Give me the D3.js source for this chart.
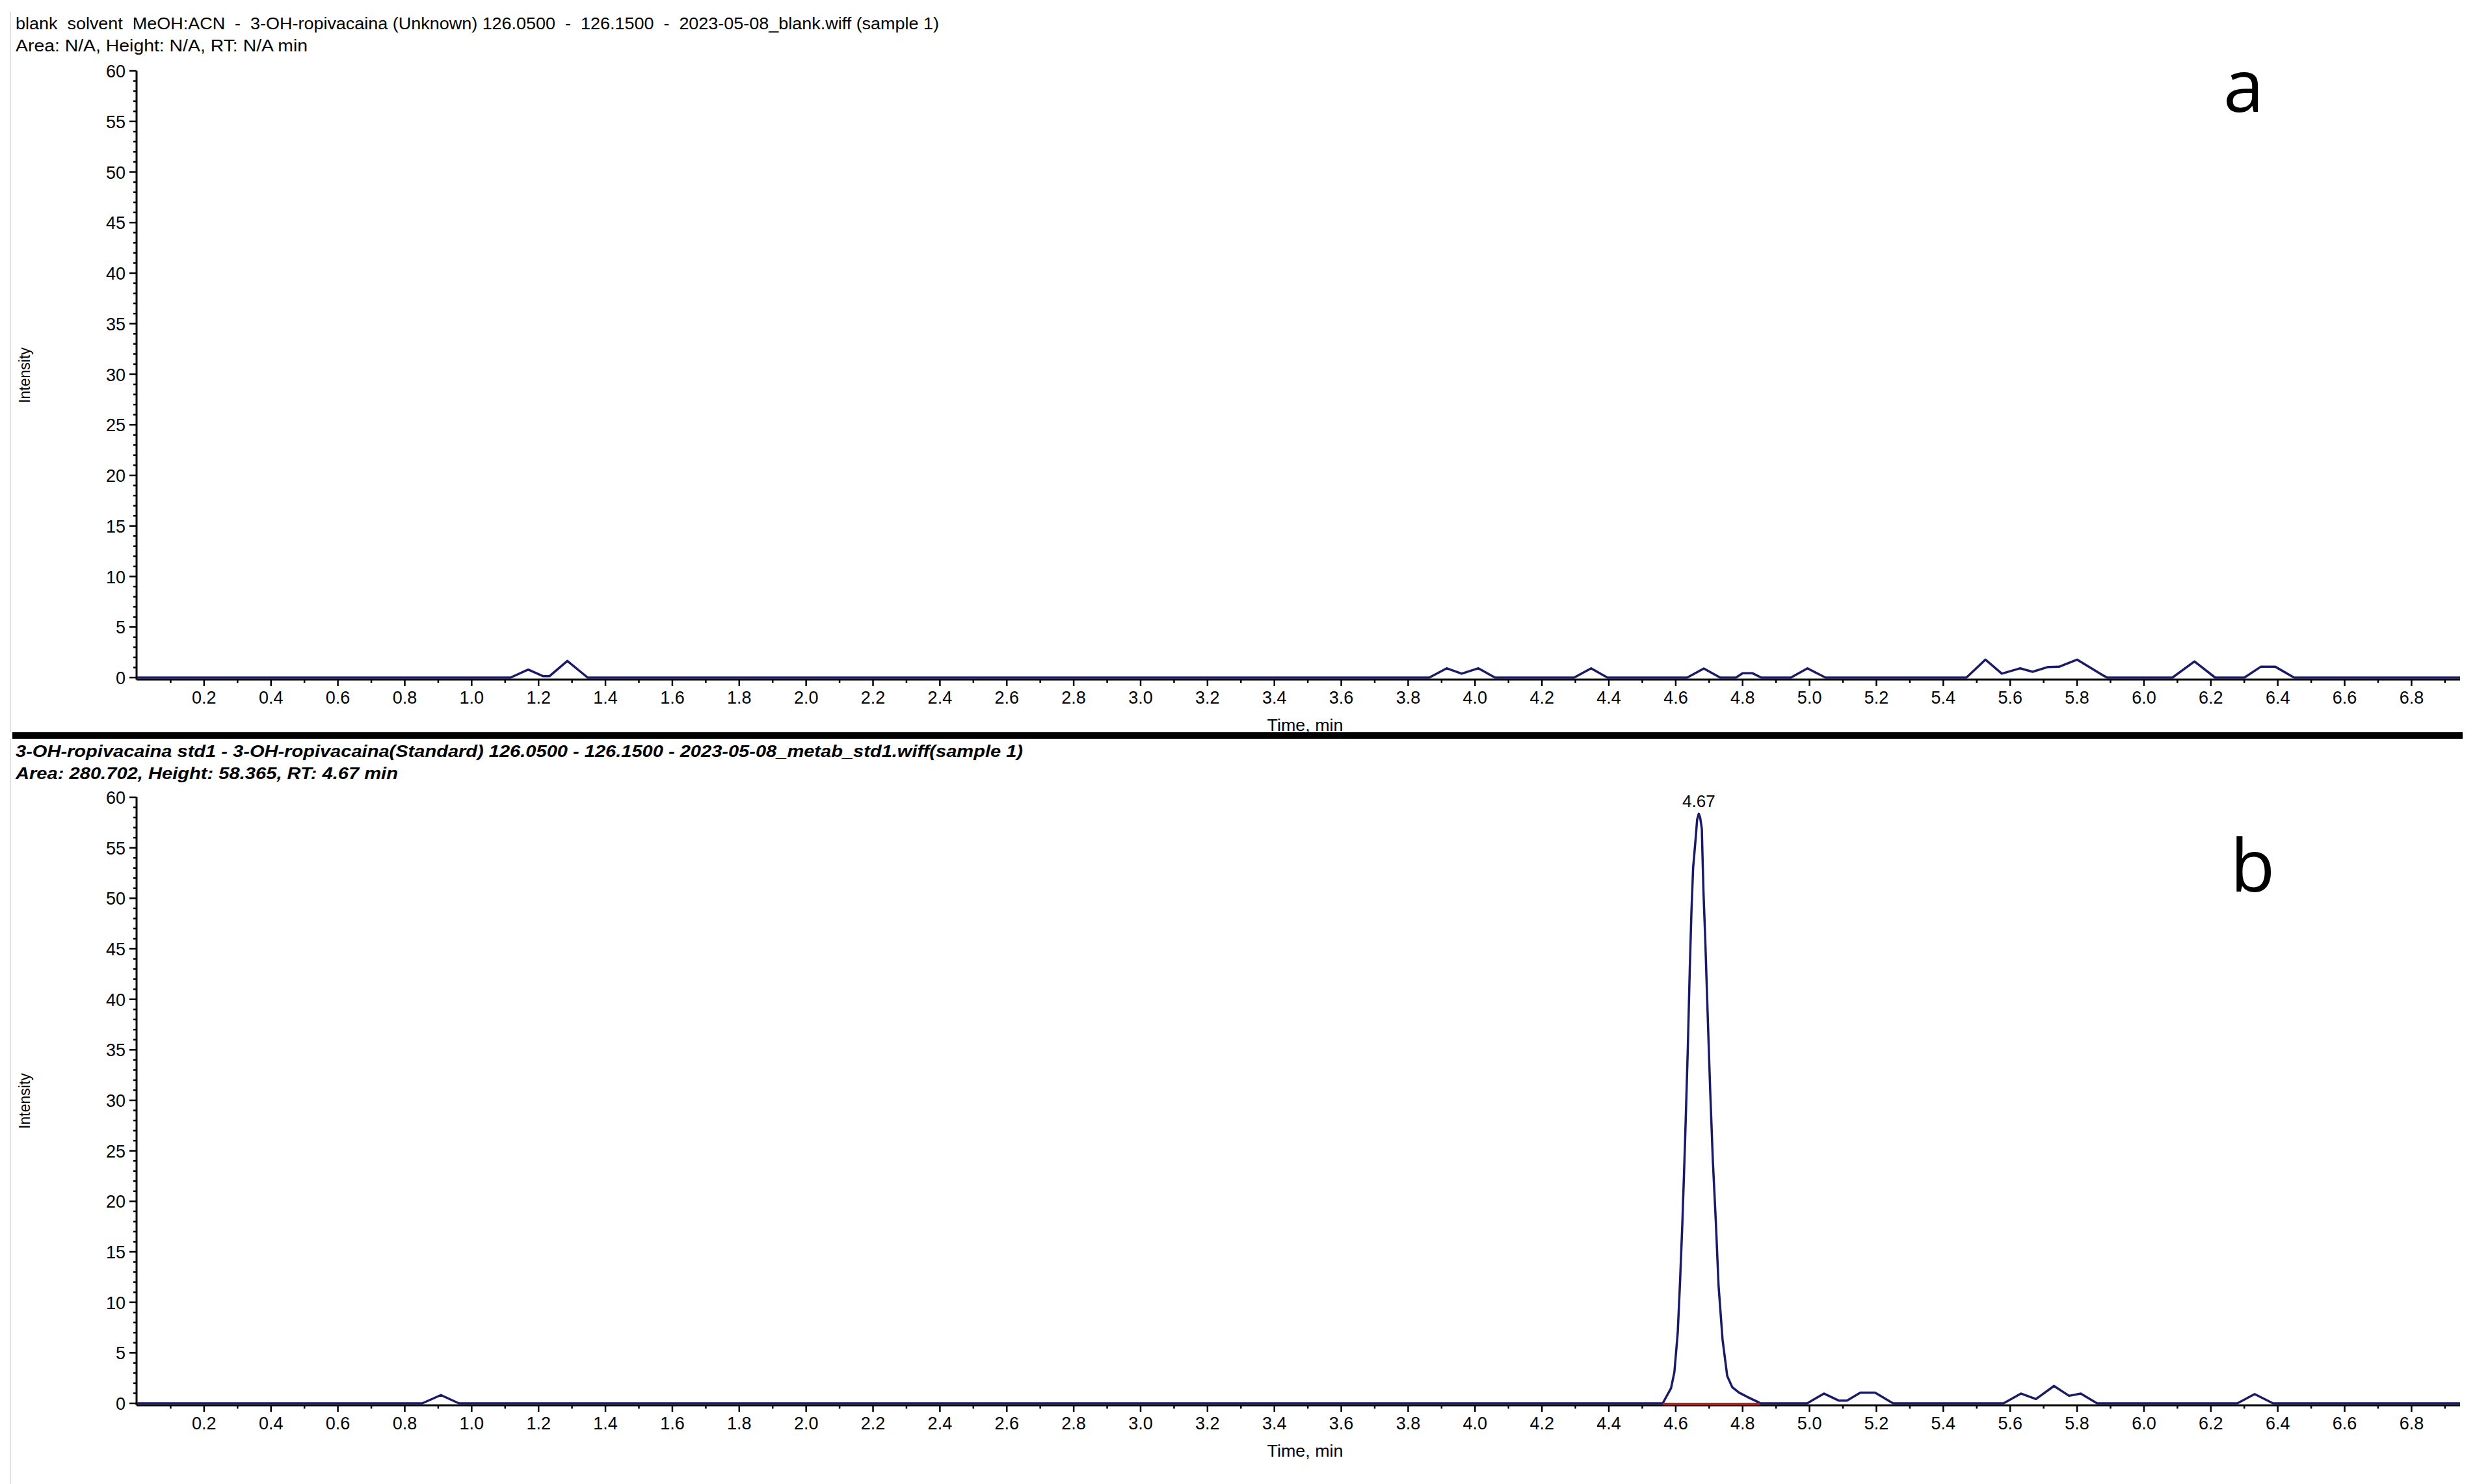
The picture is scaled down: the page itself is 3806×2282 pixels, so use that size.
<!DOCTYPE html>
<html>
<head>
<meta charset="utf-8">
<script src="https://d3js.org/d3.v7.min.js"></script>
<style>
body{margin:0;background:#fff;}
svg text{font-family:"Liberation Sans",Arial,sans-serif;fill:#000;}
.hdr{white-space:pre;}
.hdr-b{font-family:"Liberation Sans Narrow","Liberation Sans",sans-serif !important;font-weight:bold;font-style:italic;}
.tick-lbl{font-size:27px;}
</style>
</head>
<body>
<div id="chart"></div>
<script>
// panel a - blank solvent (XIC 126.05-126.15)
const timeA = [0, 1.116, 1.169, 1.213, 1.233, 1.286, 1.347,
  3.863, 3.915, 3.96, 4.01, 4.06,
  4.296, 4.347, 4.396,
  4.634, 4.684, 4.733,
  4.78, 4.80, 4.83, 4.856,
  4.944, 4.994, 5.048,
  5.469, 5.526, 5.575, 5.63, 5.667, 5.713, 5.746, 5.80, 5.879, 5.89,
  6.085, 6.151, 6.213,
  6.30, 6.349, 6.393, 6.449, 6.945];
const intA = [0, 0, 0.79, 0.15, 0.15, 1.65, 0,
  0, 0.92, 0.39, 0.92, 0,
  0, 0.92, 0,
  0, 0.90, 0,
  0, 0.43, 0.43, 0,
  0, 0.92, 0,
  0, 1.78, 0.39, 0.92, 0.58, 1.05, 1.07, 1.78, 0.2, 0,
  0, 1.6, 0,
  0, 1.07, 1.07, 0, 0];

// panel b - std1
const timeB = [0, 0.852, 0.908, 0.962,
  4.561, 4.586, 4.596, 4.606, 4.613, 4.620, 4.628, 4.636, 4.642, 4.647, 4.652, 4.660, 4.664, 4.669,
  4.673, 4.678, 4.680, 4.683, 4.688, 4.695, 4.703, 4.711, 4.720, 4.728, 4.740, 4.754, 4.769, 4.789, 4.814, 4.848, 4.852,
  4.993, 5.043, 5.087, 5.112, 5.152, 5.196, 5.25,
  5.580, 5.632, 5.677, 5.731, 5.776, 5.811, 5.86,
  6.279, 6.331, 6.386, 6.945];
const intB = [0, 0, 0.82, 0,
  0, 1.5, 3.1, 7.0, 12.1, 18, 26, 35, 43, 48.7, 53, 56.1, 57.8, 58.37,
  58.0, 56.9, 54.3, 50.6, 46.2, 39, 31, 24, 17.9, 11.7, 6.3, 2.7, 1.6, 1.07, 0.64, 0.1, 0,
  0, 0.97, 0.28, 0.28, 1.07, 1.07, 0,
  0, 0.97, 0.43, 1.72, 0.75, 0.97, 0,
  0, 0.92, 0, 0];

const peakRT = 4.669, peakHeight = 58.37, peakLabel = "4.67";
const integStart = 4.561, integEnd = 4.852;

const xDomain = [0, 6.945];
const yDomain = [0, 60];
const yMajor = d3.range(0, 61, 5);
const yMinor = d3.range(0, 61, 1).filter(v => v % 5 !== 0);
const xMajor = d3.range(2, 70, 2).map(v => v / 10);
const xMinor = d3.range(1, 70, 2).map(v => v / 10);

const headersA = ["blank  solvent  MeOH:ACN  -  3-OH-ropivacaina (Unknown) 126.0500  -  126.1500  -  2023-05-08_blank.wiff (sample 1)",
  "Area: N/A, Height: N/A, RT: N/A min"];
const headersB = ["3-OH-ropivacaina std1 - 3-OH-ropivacaina(Standard) 126.0500 - 126.1500 - 2023-05-08_metab_std1.wiff(sample 1)",
  "Area: 280.702, Height: 58.365, RT: 4.67 min"];

const W = 3806, H = 2282;
const svg = d3.select("#chart").append("svg")
  .attr("width", W).attr("height", H)
  .attr("viewBox", `0 0 ${W} ${H}`);

const x = d3.scaleLinear().domain(xDomain).range([211, 3783]);

function drawPanel(cfg) {
  const y = d3.scaleLinear().domain(yDomain).range([cfg.y0, cfg.yTop]);
  const g = svg.append("g");

  // faint panel frame
  g.append("line").attr("x1", 16).attr("x2", 16).attr("y1", cfg.frameTop).attr("y2", cfg.frameBottom)
    .attr("stroke", "#e2e2e2").attr("stroke-width", 2);

  // headers
  cfg.headers.forEach((t, i) => {
    g.append("text").attr("class", "hdr" + (cfg.bold ? " hdr-b" : ""))
      .attr("x", 24).attr("y", cfg.hdrY[i])
      .attr("font-size", 26)
      .attr("textLength", cfg.hdrW[i]).attr("lengthAdjust", "spacingAndGlyphs")
      .text(t);
  });

  // y axis
  g.append("line").attr("x1", 210).attr("x2", 210).attr("y1", y(60)).attr("y2", y(0) + 3)
    .attr("stroke", "#000").attr("stroke-width", 3);
  g.selectAll(".ymaj").data(yMajor).join("line")
    .attr("x1", 199).attr("x2", 210).attr("y1", d => y(d)).attr("y2", d => y(d))
    .attr("stroke", "#000").attr("stroke-width", 2.5);
  g.selectAll(".ymin").data(yMinor).join("line")
    .attr("x1", 205).attr("x2", 210).attr("y1", d => y(d)).attr("y2", d => y(d))
    .attr("stroke", "#000").attr("stroke-width", 2.5);
  g.selectAll(".ylbl").data(yMajor).join("text").attr("class", "tick-lbl")
    .attr("x", 193).attr("y", d => y(d) + 10).attr("text-anchor", "end")
    .text(d => d);

  // x axis
  const ax = y(0) + 3;
  g.append("line").attr("x1", 210).attr("x2", 3783).attr("y1", ax).attr("y2", ax)
    .attr("stroke", "#000").attr("stroke-width", 3);
  g.selectAll(".xmaj").data(xMajor).join("line")
    .attr("x1", d => x(d)).attr("x2", d => x(d)).attr("y1", ax).attr("y2", ax + 10)
    .attr("stroke", "#000").attr("stroke-width", 2.5);
  g.selectAll(".xmin").data(xMinor).join("line")
    .attr("x1", d => x(d)).attr("x2", d => x(d)).attr("y1", ax).attr("y2", ax + 5)
    .attr("stroke", "#000").attr("stroke-width", 2.5);
  g.selectAll(".xlbl").data(xMajor).join("text").attr("class", "tick-lbl")
    .attr("x", d => x(d)).attr("y", y(0) + 40).attr("text-anchor", "middle")
    .text(d => d.toFixed(1));

  // axis titles
  g.append("text").attr("x", 2007).attr("y", cfg.y0 + 82).attr("text-anchor", "middle")
    .attr("font-size", 25).attr("textLength", 117).attr("lengthAdjust", "spacingAndGlyphs")
    .text("Time, min");
  g.append("text").attr("transform", `translate(46,${cfg.y0 - 465}) rotate(-90)`)
    .attr("text-anchor", "middle").attr("font-size", 23)
    .text("Intensity");

  // trace (navy, drawn over the axis line so the flat baseline reads as a thick band)
  const pts = cfg.time.map((t, i) => [t, cfg.vals[i]]);
  g.append("path").datum(pts)
    .attr("fill", "#fff").attr("stroke", "#1a1a66").attr("stroke-width", 3.5)
    .attr("stroke-linejoin", "round")
    .attr("d", d3.line().x(d => x(d[0])).y(d => y(d[1])));

  if (cfg.peak) {
    g.append("line").attr("x1", x(integStart)).attr("x2", x(integEnd))
      .attr("y1", y(0) + 1).attr("y2", y(0) + 1)
      .attr("stroke", "#a02828").attr("stroke-width", 4);
    g.append("text").attr("x", x(peakRT)).attr("y", y(peakHeight) - 10)
      .attr("text-anchor", "middle").attr("font-size", 26).text(peakLabel);
  }

  // panel letter
  g.append("text").attr("x", cfg.letterX).attr("y", cfg.letterY)
    .attr("text-anchor", "middle")
    .style("font-family", "'Open Sans','Noto Sans',sans-serif")
    .attr("font-size", 112).text(cfg.letter);
}

drawPanel({time: timeA, vals: intA, y0: 1042, yTop: 109,
  headers: headersA, hdrY: [45, 79], hdrW: [1420, 449], bold: false,
  frameTop: 18, frameBottom: 1126, letter: "a", letterX: 3450, letterY: 172, peak: false});

drawPanel({time: timeB, vals: intB, y0: 2158, yTop: 1226,
  headers: headersB, hdrY: [1164, 1198], hdrW: [1549, 588], bold: true,
  frameTop: 1136, frameBottom: 2282, letter: "b", letterX: 3464, letterY: 1371, peak: true});

// separator bar between panels
svg.append("rect").attr("x", 19).attr("y", 1126).attr("width", 3768).attr("height", 10).attr("fill", "#000");
</script>
</body>
</html>
